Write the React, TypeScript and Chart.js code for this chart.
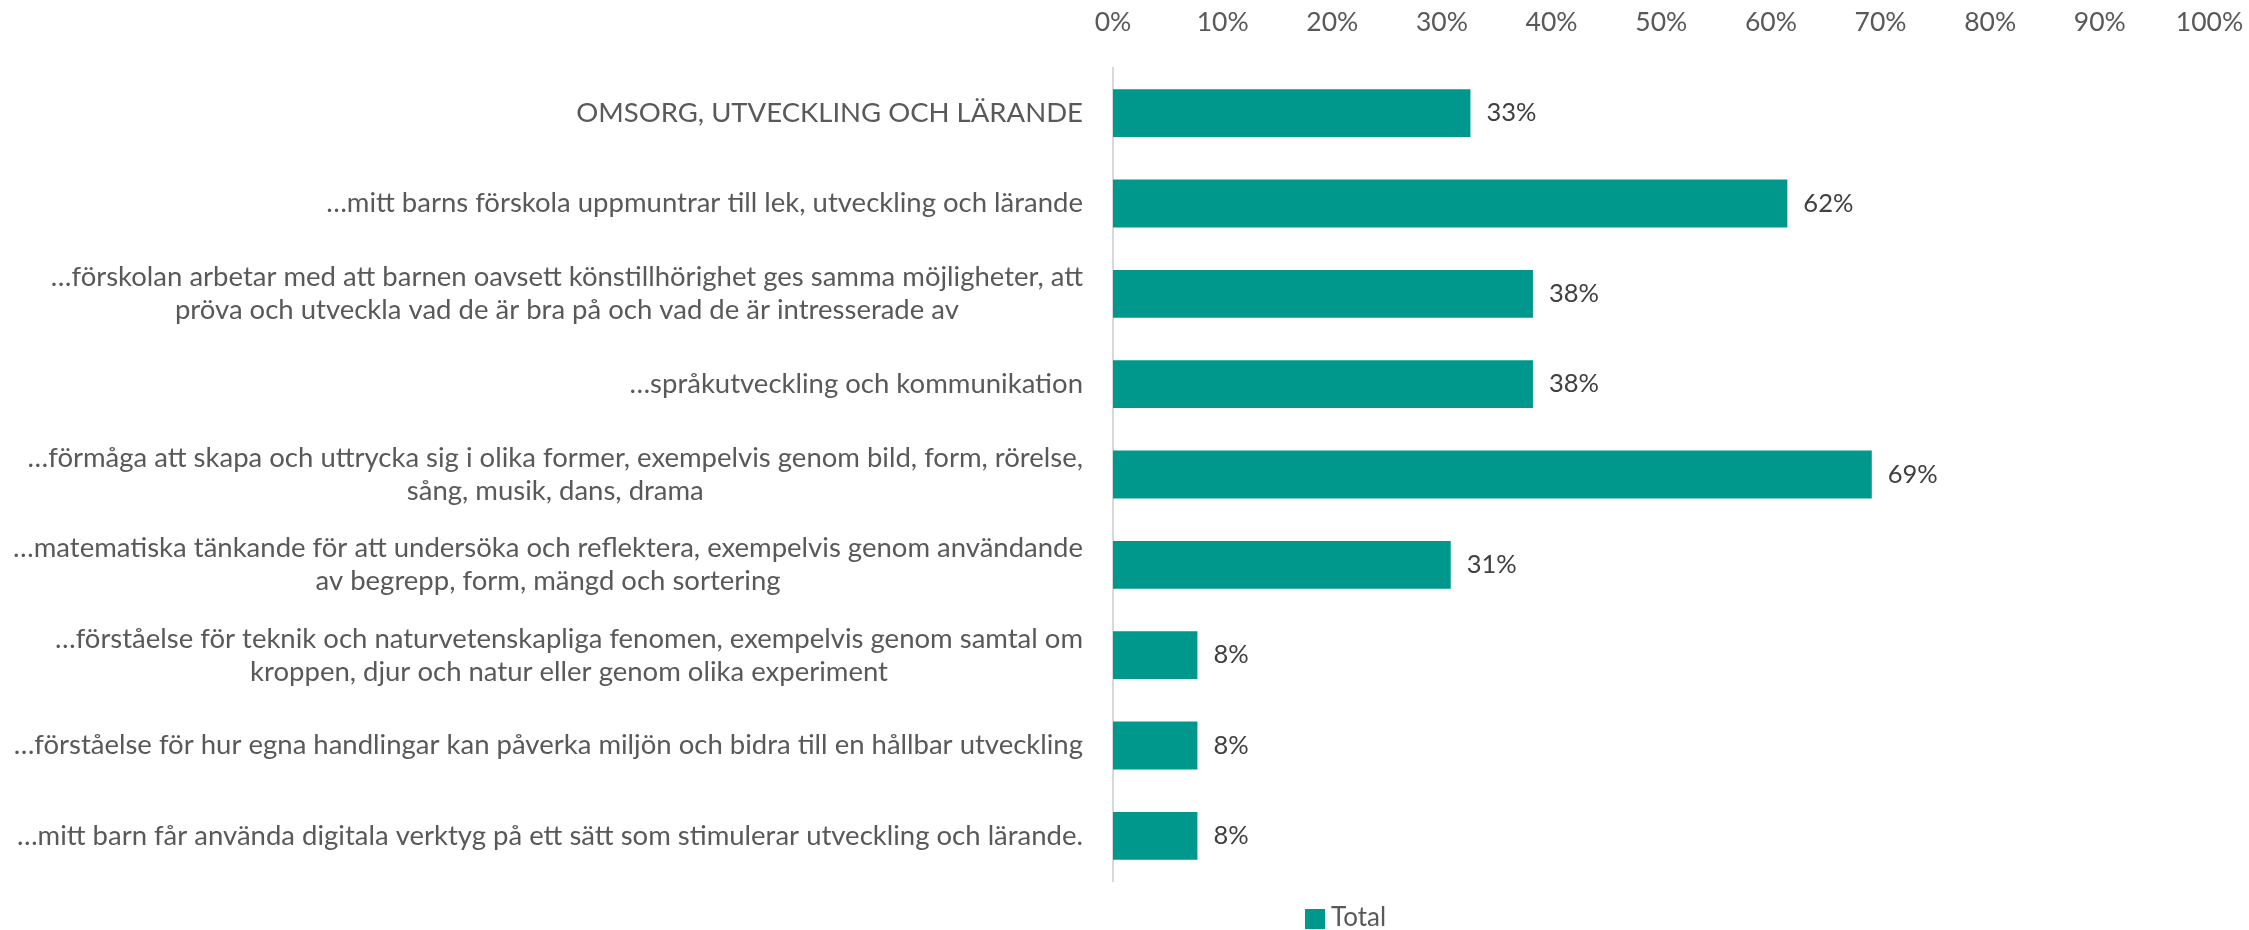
import React, { useEffect, useRef } from "react";
import { Chart, registerables } from "chart.js";

Chart.register(...registerables);

const categories: (string | string[])[] = [
  "OMSORG, UTVECKLING OCH LÄRANDE",
  "…mitt barns förskola uppmuntrar till lek, utveckling och lärande",
  [
    "…förskolan arbetar med att barnen oavsett könstillhörighet ges samma möjligheter, att",
    "pröva och utveckla vad de är bra på och vad de är intresserade av",
  ],
  "…språkutveckling och kommunikation",
  [
    "…förmåga att skapa och uttrycka sig i olika former, exempelvis genom bild, form, rörelse,",
    "sång, musik, dans, drama",
  ],
  [
    "…matematiska tänkande för att undersöka och reflektera, exempelvis genom användande",
    "av begrepp, form, mängd och sortering",
  ],
  [
    "…förståelse för teknik och naturvetenskapliga fenomen, exempelvis genom samtal om",
    "kroppen, djur och natur eller genom olika experiment",
  ],
  "…förståelse för hur egna handlingar kan påverka miljön och bidra till en hållbar utveckling",
  "…mitt barn får använda digitala verktyg på ett sätt som stimulerar utveckling och lärande.",
];

const seriesName = "Total";
const totalValues = [0.326, 0.615, 0.383, 0.383, 0.692, 0.308, 0.077, 0.077, 0.077];

const FONT = "Lato";
const LABEL_SIZE = 27.5;
const TICK_SIZE = 26.5;
const DATA_SIZE = 25.5;
const BAR_COLOR = "#00978D";

const App: React.FC = () => {
  const ref = useRef<HTMLCanvasElement | null>(null);

  useEffect(() => {
    document.body.style.margin = "0";
    const canvas = ref.current;
    if (!canvas) return;

    const yLabelPlugin = {
      id: "yLabels",
      afterDraw(chart: any) {
        const ctx = chart.ctx;
        const y = chart.scales.y;
        const right = chart.chartArea.left - 30;
        const lineH = 33;
        ctx.save();
        ctx.font = `${LABEL_SIZE}px ${FONT}`;
        ctx.fillStyle = "#595959";
        ctx.textBaseline = "middle";
        ctx.textAlign = "center";
        categories.forEach((lab, i) => {
          const lines = Array.isArray(lab) ? lab : [lab];
          const maxW = Math.max(...lines.map((l) => ctx.measureText(l).width));
          const cx = right - maxW / 2;
          const cy = y.getPixelForValue(i);
          const start = cy - ((lines.length - 1) * lineH) / 2;
          lines.forEach((l, j) => ctx.fillText(l, cx, start + j * lineH));
        });
        ctx.restore();
      },
    };

    const dataLabelPlugin = {
      id: "dataLabels",
      afterDatasetsDraw(chart: any) {
        const ctx = chart.ctx;
        const meta = chart.getDatasetMeta(0);
        ctx.save();
        ctx.font = `${DATA_SIZE}px ${FONT}`;
        ctx.fillStyle = "#404040";
        ctx.textBaseline = "middle";
        ctx.textAlign = "left";
        meta.data.forEach((bar: any, i: number) => {
          ctx.fillText(Math.round(totalValues[i] * 100) + "%", bar.x + 16, bar.y);
        });
        ctx.restore();
      },
    };

    const legendPlugin = {
      id: "customLegend",
      afterDraw(chart: any) {
        const ctx = chart.ctx;
        ctx.save();
        ctx.fillStyle = BAR_COLOR;
        ctx.fillRect(1305, 909, 20, 20);
        ctx.font = `26px ${FONT}`;
        ctx.fillStyle = "#595959";
        ctx.textBaseline = "middle";
        ctx.textAlign = "left";
        ctx.fillText(seriesName, 1331, 918);
        ctx.restore();
      },
    };

    const chart = new Chart(canvas, {
      type: "bar",
      data: {
        labels: categories.map((c) => (Array.isArray(c) ? c.join(" ") : c)),
        datasets: [
          {
            label: seriesName,
            data: totalValues,
            backgroundColor: BAR_COLOR,
            barPercentage: 0.53,
            categoryPercentage: 1,
          },
        ],
      },
      options: {
        indexAxis: "y",
        responsive: false,
        animation: false,
        layout: { padding: { top: 0, right: 39.5, bottom: 49, left: 0 } },
        plugins: {
          legend: { display: false },
          tooltip: { enabled: false },
        },
        scales: {
          x: {
            position: "top",
            min: 0,
            max: 1,
            grid: { display: false },
            border: { display: false },
            ticks: {
              stepSize: 0.1,
              color: "#595959",
              font: { family: FONT, size: TICK_SIZE },
              padding: 22,
              callback: (v: any) => Math.round(Number(v) * 100) + "%",
            },
            afterFit: (s: any) => {
              s.height = 68;
              s.paddingRight = 0;
              s.paddingLeft = 0;
            },
          },
          y: {
            grid: { display: false },
            border: { display: true, color: "#D9D9D9", width: 2 },
            ticks: { display: false },
            afterFit: (s: any) => {
              s.width = 1113;
            },
          },
        },
      },
      plugins: [yLabelPlugin, dataLabelPlugin, legendPlugin],
    } as any);

    return () => chart.destroy();
  }, []);

  return (
    <div style={{ width: 2249, height: 930, background: "#fff" }}>
      <canvas ref={ref} width={2249} height={930} />
    </div>
  );
};

export default App;
